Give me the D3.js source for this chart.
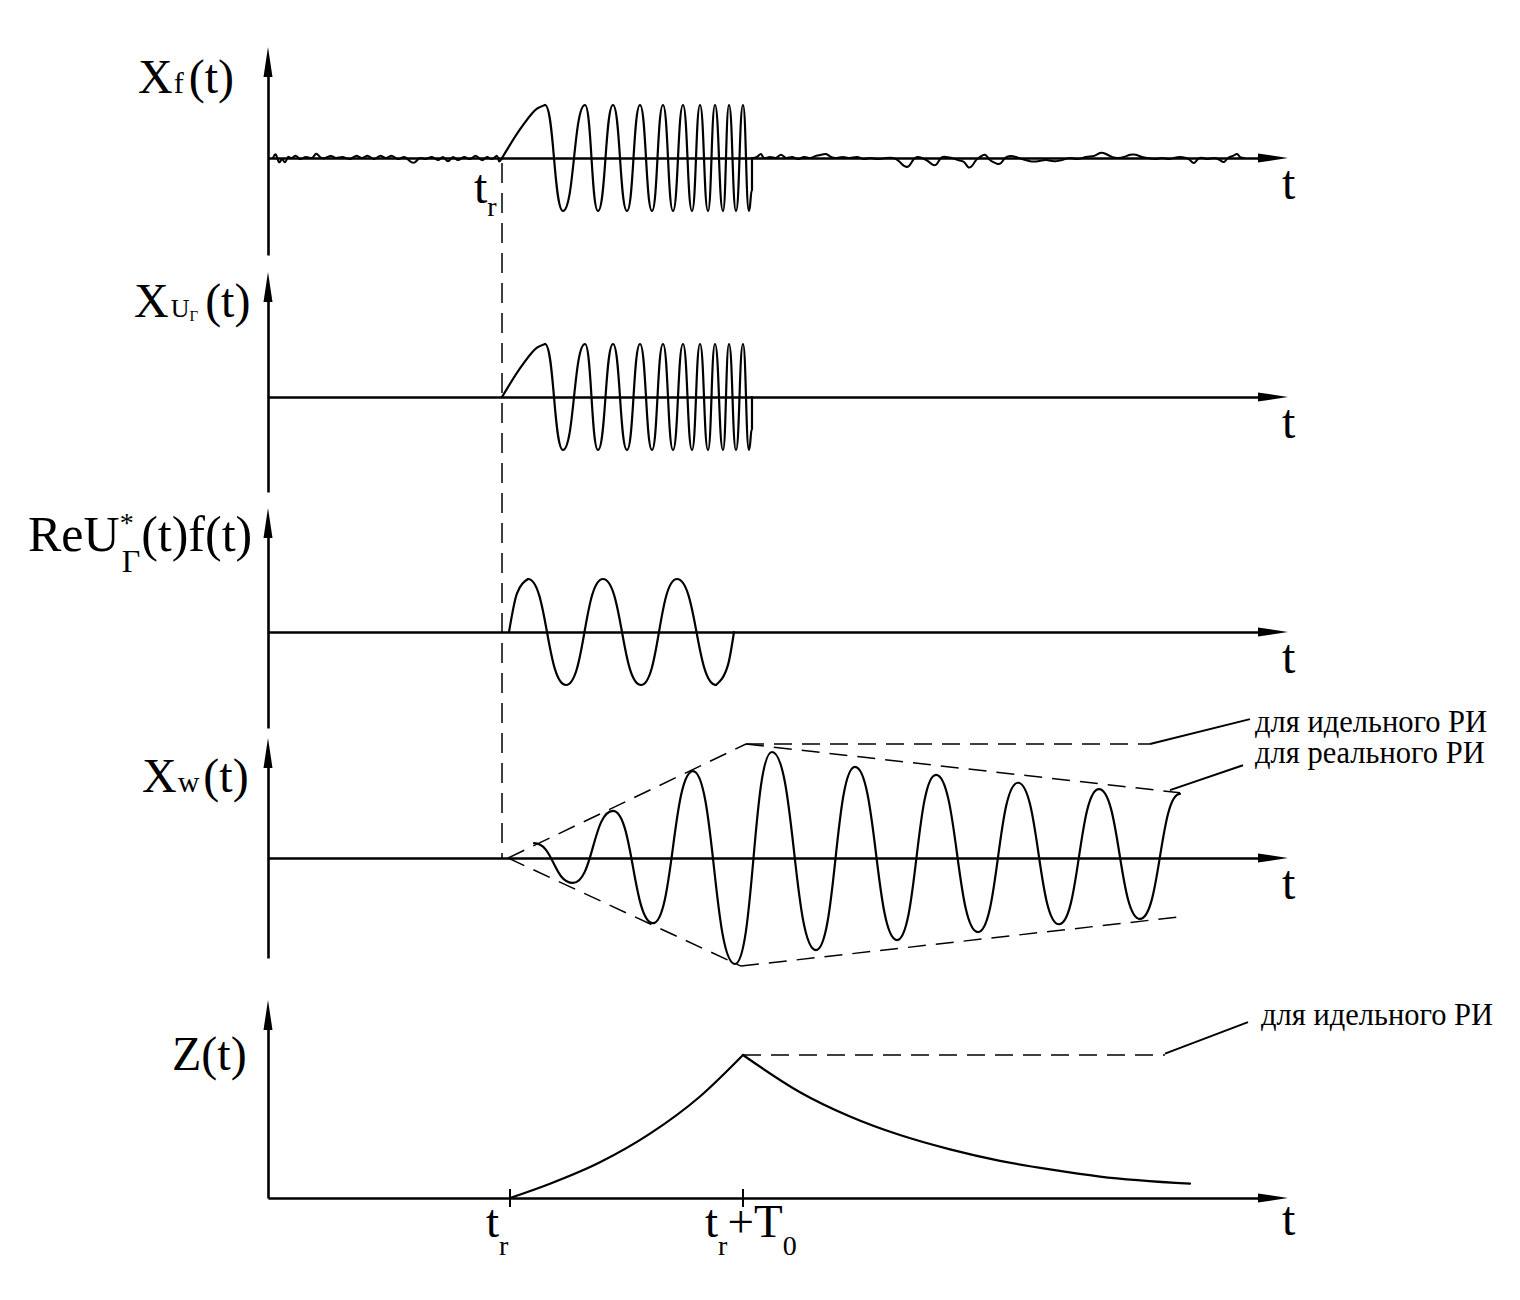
<!DOCTYPE html>
<html><head><meta charset="utf-8">
<script src="https://cdn.jsdelivr.net/npm/d3@7"></script>
<style>
body{margin:0;background:#fff}
svg{display:block}
</style>
</head><body>
<script>
// ---------- data ----------
const T_MAX = 102;          // time axis length (arbitrary units)
const tr = 23.4;            // signal arrival time
const tickT = [24.2, 47.5]; // t_r and t_r+T0 on the bottom axis

// chirp (panels Xf, XU)
const chirpStartT = [23.4,25.5,26.9,27.7], chirpStartV = [0,0.62,0.93,1];  // slow first lobe
const chirpT = [27.7,29.5,31.7,33.0,34.5,35.9,37.2,38.4,39.5,40.5,41.5,42.4,43.2,44.0,44.7,45.5,46.1,46.8,47.5,48.1,48.4]; // extrema
const chirpV = [1,-1,1,-1,1,-1,1,-1,1,-1,1,-1,1,-1,1,-1,1,-1,1,-1,-0.6];
const chirpCutT = [48.4,48.4], chirpCutV = [-0.6,0];                       // pulse cut-off

// noise on Xf before and after the pulse
const noisePreT = [0.5,0.8,1.1,1.4,1.7,2.0,2.3,2.8,3.2,3.8,4.4,4.8,5.2,5.7,6.3,6.8,7.5,8.2,8.8,9.4,10.0,10.6,11.2,11.8,12.4,13.0,13.6,14.2,14.7,15.2,15.8,16.4,17.0,17.5,18.0,18.5,19.0,19.6,20.2,20.8,21.4,21.9,22.4,22.9,23.1,23.4];
const noisePreV = [0,0.06,-0.08,-0.02,-0.08,0.02,0,0.04,-0.02,0.02,0,0.08,0.02,0,0.04,0,0.02,-0.02,0.04,0,0.04,-0.02,0.04,0,0.04,-0.02,0.02,-0.06,-0.08,0,-0.02,0.02,-0.04,0.02,-0.06,0.02,-0.04,0.02,-0.02,0.04,-0.04,0.02,-0.02,0.04,-0.06,0];
const noisePostT = [48.4,48.9,49.3,49.6,50.2,50.8,51.3,51.8,52.4,53.0,53.6,54.2,54.8,55.3,55.8,56.3,56.9,57.5,58.2,58.9,59.6,60.2,61.0,61.8,62.5,63.1,63.6,64.1,64.5,64.9,65.4,66.0,66.5,66.9,67.3,67.8,68.4,69.0,69.6,70.0,70.4,70.8,71.2,71.7,72.1,72.5,72.9,73.3,73.7,74.2,74.8,75.4,76.2,77.0,77.8,78.6,79.4,80.2,81.0,81.8,82.6,83.2,83.8,84.4,85.0,85.6,86.2,86.8,87.4,88.0,88.7,89.4,90.0,90.6,91.2,91.8,92.2,92.6,93.0,93.5,94.0,94.6,95.2,95.6,96.0,96.5,96.9,97.2,97.6];
const noisePostV = [0,0.02,0.075,0,0.02,0,0.06,0,0.02,-0.02,0.02,0,0.04,0.06,0.075,0.02,0,0.02,0,0.02,-0.02,0,-0.02,0,0,-0.06,-0.15,-0.15,-0.04,0.02,0,-0.06,-0.13,-0.11,0,0.02,0,-0.04,-0.075,-0.17,-0.15,-0.04,0.02,0.06,-0.02,-0.075,-0.11,-0.095,0,0.04,0.02,-0.02,-0.06,-0.06,-0.04,-0.06,-0.04,0,-0.02,0.02,0.04,0.095,0.075,0.02,0,0.02,0.06,0.06,0.02,0,-0.02,0,-0.02,0,0.02,0,-0.04,-0.095,-0.02,0,-0.02,0,-0.04,-0.075,0,0.04,0.075,0.02,0];

// Re U*(t) f(t)
const reStartT = [24.1,24.9,26.0], reStartV = [0,0.73,1];
const reT = [26.0,29.8,33.5,37.3,40.9,44.8];   // extrema
const reV = [1,-1,1,-1,1,-1];
const reEndT = [44.8,46.0,46.6], reEndV = [-1,-0.62,0];

// Xw(t) filter output (extrema)
const xwT = [26.6,30.5,34.5,38.5,42.5,46.7,50.4,54.8,58.7,62.9,66.8,71.0,75.0,79.1,83.1,87.2,91.2];
const xwV = [0.28,-0.47,0.89,-1.23,1.64,-2.0,2.0,-1.74,1.72,-1.55,1.57,-1.40,1.42,-1.25,1.30,-1.15,1.21];

// envelopes (dashed)
const envUpT = [24.0,47.8],  envUpV = [0,2.15];
const envLoT = [24.0,47.3],  envLoV = [0,-2.04];
const idealT = [47.8,88.2],  idealV = [2.15,2.15];
const realUpT = [47.8,91.2], realUpV = [2.15,1.23];
const realLoT = [47.3,91.2], realLoV = [-2.04,-1.11];

// Z(t)
const zRiseT = [24.2,28.2,33.2,38.2,43.2,47.5];
const zRiseV = [0,0.10,0.25,0.45,0.71,1.0];
const zDecT = [47.5,53.2,58.2,63.2,68.2,73.2,78.2,83.2,92.2];
const zDecV = [1.0,0.74,0.57,0.44,0.34,0.26,0.20,0.15,0.10];
const zIdealT = [47.5,89.7], zIdealV = [1,1];

const annIdeal = "для идельного РИ";
const annReal = "для реального РИ";

// ---------- layout ----------
const W = 1520, H = 1300;
const FONT = "'Liberation Serif', Tinos, 'Times New Roman', 'DejaVu Serif', serif";
const svg = d3.select("body").append("svg").attr("width", W).attr("height", H)
  .attr("font-family", FONT);
const x = d3.scaleLinear().domain([0, T_MAX]).range([268, 1288]);
const panels = [
  {top:47,  bottom:255, base:158},
  {top:272, bottom:492, base:397},
  {top:508, bottom:728, base:632},
  {top:738, bottom:958, base:858},
  {top:1000,bottom:1198,base:1198}
];
const AMP = 53;
const ys = panels.map(p => d3.scaleLinear().domain([-1,1]).range([p.base+AMP, p.base-AMP]));
const yZ = d3.scaleLinear().domain([0,1]).range([1198,1055]);

const zip = (a,b) => a.map((v,i)=>[v,b[i]]);
const mk = (yS, curve) => d3.line().x(d=>x(d[0])).y(d=>yS(d[1])).curve(curve || d3.curveNatural);

// ---------- axes ----------
const AH = 30, AW = 4.5;
panels.forEach((p,i)=>{
  const g = svg.append("g");
  const vs = d3.scaleLinear().range([p.bottom, p.top+AH-2]);
  g.append("g").attr("transform",`translate(${x(0)},0)`)
    .call(d3.axisLeft(vs).tickValues([]).tickSizeOuter(0))
    .call(s=>s.select(".domain").attr("stroke","#000").attr("stroke-width",2.6));
  g.append("path").attr("d",`M${x(0)},${p.top}L${x(0)-AW},${p.top+AH}L${x(0)+AW},${p.top+AH}Z`).attr("fill","#000");
  const hs = d3.scaleLinear().range([x(0), x(T_MAX)-AH+2]);
  g.append("g").attr("transform",`translate(0,${p.base})`)
    .call(d3.axisBottom(hs).tickValues([]).tickSizeOuter(0))
    .call(s=>s.select(".domain").attr("stroke","#000").attr("stroke-width",2.6));
  g.append("path").attr("d",`M${x(T_MAX)},${p.base}L${x(T_MAX)-AH},${p.base-AW}L${x(T_MAX)-AH},${p.base+AW}Z`).attr("fill","#000");
});

const curveStyle = s => s.attr("fill","none").attr("stroke","#000").attr("stroke-width",2.2).attr("stroke-linejoin","round").attr("stroke-linecap","round");
const dashStyle = s => s.attr("fill","none").attr("stroke","#000").attr("stroke-width",1.5).attr("stroke-dasharray","18,10");
const draw = (yS, T, V, curve, sw) => svg.append("path").attr("d", mk(yS, curve)(zip(T,V))).call(curveStyle).attr("stroke-width", sw || 2.2);

// panel 1 & 2 chirp
[0,1].forEach(i=>{
  draw(ys[i], chirpStartT, chirpStartV, d3.curveMonotoneX);
  draw(ys[i], chirpT, chirpV, d3.curveBumpX);
  draw(ys[i], chirpCutT, chirpCutV, d3.curveLinear);
});
draw(ys[0], noisePreT, noisePreV, d3.curveNatural, 2);
draw(ys[0], noisePostT, noisePostV, d3.curveNatural, 2);

// panel 3
draw(ys[2], reStartT, reStartV, d3.curveMonotoneX);
draw(ys[2], reT, reV, d3.curveBumpX);
draw(ys[2], reEndT, reEndV, d3.curveMonotoneX);

// panel 4
draw(ys[3], xwT, xwV, d3.curveBumpX);
[[envUpT,envUpV],[envLoT,envLoV],[idealT,idealV],[realUpT,realUpV],[realLoT,realLoV]].forEach(([a,b])=>{
  svg.append("path").attr("d", mk(ys[3], d3.curveLinear)(zip(a,b))).call(dashStyle);
});

// panel 5
draw(yZ, zRiseT, zRiseV, d3.curveMonotoneX);
draw(yZ, zDecT, zDecV, d3.curveMonotoneX);
svg.append("path").attr("d", mk(yZ, d3.curveLinear)(zip(zIdealT, zIdealV))).call(dashStyle);
tickT.forEach(t=>{
  svg.append("line").attr("x1",x(t)).attr("x2",x(t)).attr("y1",panels[4].base-9).attr("y2",panels[4].base+9)
    .attr("stroke","#000").attr("stroke-width",2);
});

// t_r dashed vertical
svg.append("line").attr("x1",x(tr)).attr("x2",x(tr)).attr("y1",panels[0].base+5).attr("y2",panels[3].base)
  .attr("stroke","#000").attr("stroke-width",1.5).attr("stroke-dasharray","20,10");

// leader lines
const leader = (t1,v1,t2,v2,yS)=> svg.append("line").attr("x1",x(t1)).attr("y1",yS(v1)).attr("x2",x(t2)).attr("y2",yS(v2))
  .attr("stroke","#000").attr("stroke-width",2);
leader(88.2,2.15,98.2,2.62,ys[3]);
leader(90.2,1.28,97.5,1.75,ys[3]);
leader(89.7,1.01,98.0,1.23,yZ);

// ---------- text ----------
function rich(x0,y0,parts){
  const t = svg.append("text").attr("x",x0).attr("y",y0).attr("font-family",FONT).attr("fill","#000");
  parts.forEach(p=>{
    const s = t.append("tspan").text(p.t).attr("font-size",p.s);
    if(p.x!=null) s.attr("x",p.x);
    if(p.dx!=null) s.attr("dx",p.dx);
    if(p.dy!=null) s.attr("dy",p.dy);
  });
  return t;
}
const BIG = 48;
rich(138, 93, [{t:"X",s:BIG},{t:"f",s:30,dx:1},{t:"(t)",s:BIG,dx:5}]);
rich(134, 317, [{t:"X",s:BIG},{t:"U",s:26,dx:2},{t:"Г",s:15,dy:4},{t:"(t)",s:BIG,dx:7,dy:-4}]);
rich(28, 551, [{t:"ReU",s:50},{t:"*",s:28,dy:-19},{t:"Г",s:32,dx:-12,dy:40},{t:"(t)f(t)",s:50,dx:1,dy:-21}]);
rich(142, 792, [{t:"X",s:BIG},{t:"w",s:30,dx:1},{t:"(t)",s:BIG,dx:4}]);
rich(172, 1070, [{t:"Z(t)",s:BIG}]);

panels.forEach((p,i)=>{
  const yb = i===4 ? 1235 : p.base+41;
  rich(x(T_MAX)-6, yb, [{t:"t",s:BIG}]);
});
rich(x(tr)-28, 203, [{t:"t",s:BIG},{t:"r",s:28,dy:13}]);
rich(x(tickT[0])-24, 1237, [{t:"t",s:47},{t:"r",s:28,dy:18}]);
rich(x(tickT[1])-38, 1237, [{t:"t",s:47},{t:"r",s:28,dy:18},{t:"+",s:47,dy:-18},{t:"T",s:47},{t:"0",s:28,dy:18}]);

rich(x(98.7), ys[3](2.38), [{t:annIdeal,s:30.5}]);
rich(x(98.7), ys[3](1.79), [{t:annReal,s:30.5}]);
rich(x(99.3), yZ(1.21), [{t:annIdeal,s:30.5}]);
</script>
</body></html>
